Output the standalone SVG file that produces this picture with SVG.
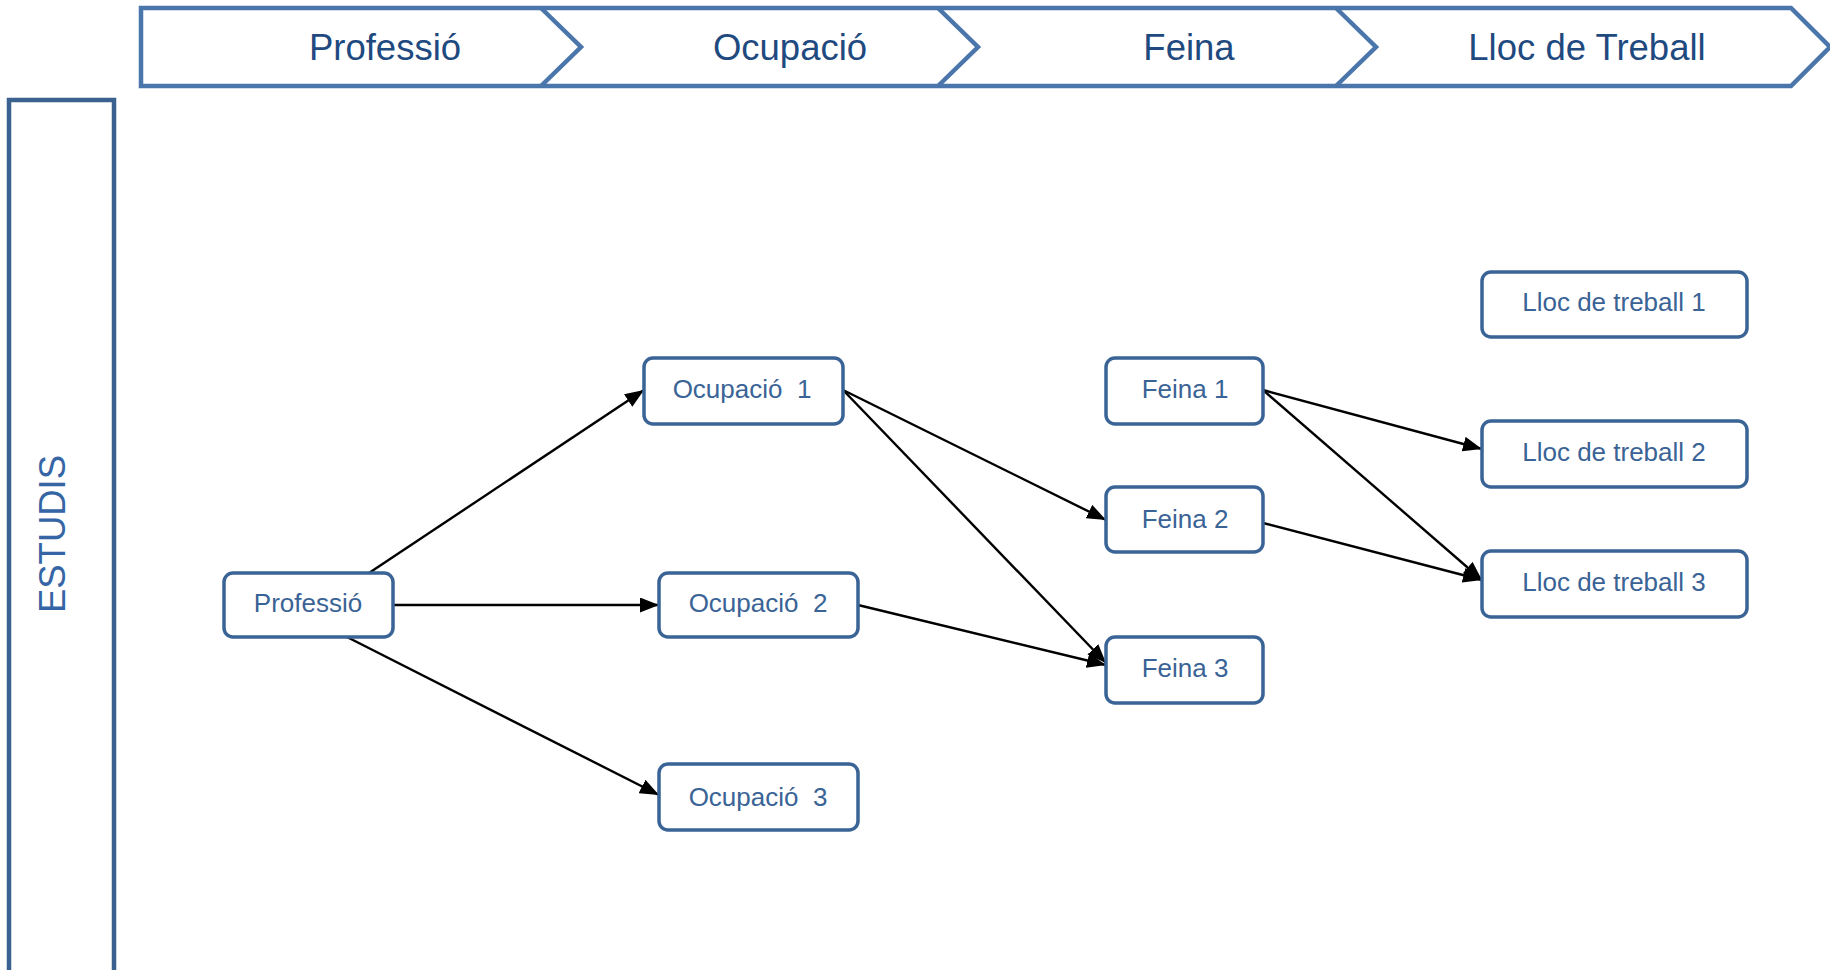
<svg xmlns="http://www.w3.org/2000/svg" width="1830" height="970" viewBox="0 0 1830 970">
<defs>
<marker id="arr" markerUnits="userSpaceOnUse" markerWidth="19" markerHeight="15" refX="19" refY="7.5" orient="auto">
<path d="M0,0 L19,7.5 L0,15 Z" fill="#000"/>
</marker>
<style>
.hdr{fill:#fff;stroke:#4a76ab;stroke-width:4.5;stroke-linejoin:miter}
.htx{font-family:"Liberation Sans",Arial,sans-serif;font-size:36.5px;fill:#1f4a80;text-anchor:middle}
.node rect{fill:#fff;stroke:#3a6396;stroke-width:3.5}
.node text{font-family:"Liberation Sans",Arial,sans-serif;font-size:26px;fill:#3a6396;text-anchor:middle;white-space:pre}
.edge{stroke:#000;stroke-width:2.4;fill:none;marker-end:url(#arr)}
</style>
</defs>
<rect width="1830" height="970" fill="#fff"/>
<g id="header">
<path class="hdr" d="M141,8 L1791,8 L1830,47 L1791,86 L141,86 Z"/>
<path class="hdr" fill="none" d="M541,8 L581,47 L541,86 M938,8 L978,47 L938,86 M1336,8 L1376,47 L1336,86"/>
<text class="htx" x="385" y="60">Professió</text>
<text class="htx" x="790" y="60">Ocupació</text>
<text class="htx" x="1189" y="60">Feina</text>
<text class="htx" x="1587" y="60">Lloc de Treball</text>
</g>
<g id="estudis">
<rect x="9" y="100" width="105" height="890" fill="#fff" stroke="#3b6190" stroke-width="4.5"/>
<text transform="translate(65,534) rotate(-90)" font-family="Liberation Sans,Arial,sans-serif" font-size="36.5" fill="#3565a5" text-anchor="middle">ESTUDIS</text>
</g>
<g id="connectors">
<line class="edge" x1="369" y1="573" x2="644" y2="390"/>
<line class="edge" x1="393" y1="605" x2="659" y2="605"/>
<line class="edge" x1="347" y1="637" x2="659" y2="795"/>
<line class="edge" x1="843" y1="390" x2="1106" y2="520"/>
<line class="edge" x1="843" y1="390" x2="1106" y2="663"/>
<line class="edge" x1="858" y1="605" x2="1106" y2="665"/>
<line class="edge" x1="1263" y1="390" x2="1482" y2="449"/>
<line class="edge" x1="1263" y1="390" x2="1482" y2="580"/>
<line class="edge" x1="1263" y1="523" x2="1482" y2="580"/>
</g>
<g id="n-professio" class="node"><rect x="224" y="573" width="169" height="64" rx="9"/><text x="308" y="612">Professió</text></g>
<g id="n-ocup1" class="node"><rect x="644" y="358" width="199" height="66" rx="9"/><text x="742" y="398">Ocupació  1</text></g>
<g id="n-ocup2" class="node"><rect x="659" y="573" width="199" height="64" rx="9"/><text x="758" y="612">Ocupació  2</text></g>
<g id="n-ocup3" class="node"><rect x="659" y="764" width="199" height="66" rx="9"/><text x="758" y="806">Ocupació  3</text></g>
<g id="n-feina1" class="node"><rect x="1106" y="358" width="157" height="66" rx="9"/><text x="1185" y="398">Feina 1</text></g>
<g id="n-feina2" class="node"><rect x="1106" y="487" width="157" height="65" rx="9"/><text x="1185" y="528">Feina 2</text></g>
<g id="n-feina3" class="node"><rect x="1106" y="637" width="157" height="66" rx="9"/><text x="1185" y="677">Feina 3</text></g>
<g id="n-lloc1" class="node"><rect x="1482" y="272" width="265" height="65" rx="9"/><text x="1614" y="311">Lloc de treball 1</text></g>
<g id="n-lloc2" class="node"><rect x="1482" y="421" width="265" height="66" rx="9"/><text x="1614" y="461">Lloc de treball 2</text></g>
<g id="n-lloc3" class="node"><rect x="1482" y="551" width="265" height="66" rx="9"/><text x="1614" y="591">Lloc de treball 3</text></g>
</svg>
